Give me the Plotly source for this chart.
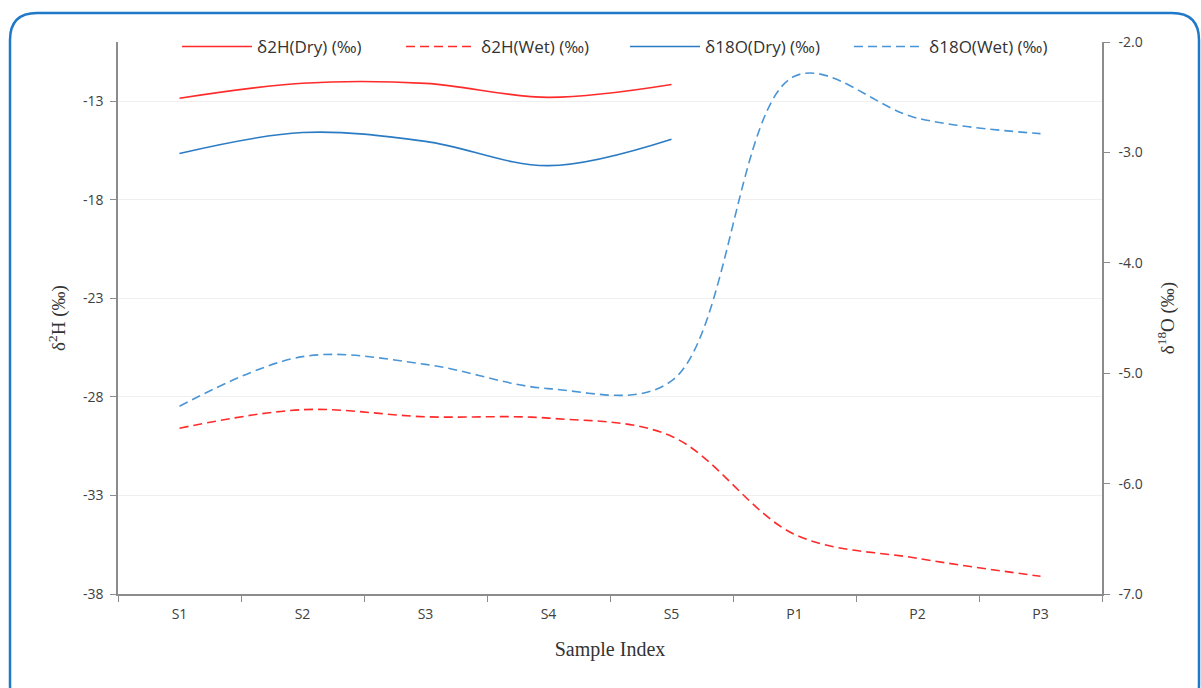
import plotly.graph_objects as go

samples = ["S1", "S2", "S3", "S4", "S5", "P1", "P2", "P3"]
d2h_dry = [-12.85, -12.09, -12.10, -12.81, -12.16]
d2h_wet = [-29.59, -28.65, -29.01, -29.08, -30.00, -34.97, -36.19, -37.10]
d18o_dry = [-3.01, -2.82, -2.90, -3.12, -2.88]
d18o_wet = [-5.30, -4.85, -4.92, -5.14, -5.07, -2.31, -2.69, -2.83]

h_ticks = [-38, -33, -28, -23, -18, -13]
h_ticklabels = ["-38", "-33", "-28", "-23", "-18", "-13"]
o_ticks = [-7.0, -6.0, -5.0, -4.0, -3.0, -2.0]
o_ticklabels = ["-7.0", "-6.0", "-5.0", "-4.0", "-3.0", "-2.0"]

RED = "#ff2a2a"
BLUE_D = "#2a7bc4"
BLUE_W = "#4a95d6"

fig = go.Figure()
fig.add_trace(go.Scatter(x=samples[:5], y=d2h_dry, name="δ2H(Dry) (‰)", mode="lines",
                         line=dict(color=RED, width=1.6, shape="spline", smoothing=1.0)))
fig.add_trace(go.Scatter(x=samples, y=d2h_wet, name="δ2H(Wet) (‰)", mode="lines",
                         line=dict(color=RED, width=1.6, dash="9px,5px", shape="spline", smoothing=1.0)))
fig.add_trace(go.Scatter(x=samples[:5], y=d18o_dry, name="δ18O(Dry) (‰)", mode="lines", yaxis="y2",
                         line=dict(color=BLUE_D, width=1.6, shape="spline", smoothing=1.0)))
fig.add_trace(go.Scatter(x=samples, y=d18o_wet, name="δ18O(Wet) (‰)", mode="lines", yaxis="y2",
                         line=dict(color=BLUE_W, width=1.6, dash="9px,5px", shape="spline", smoothing=1.0)))

L, R, T, B = 118, 1102, 42, 594
W, H = 1201, 688

def px(x):
    return (x - L) / (R - L)

def py(y):
    return (B - y) / (B - T)

# rounded border box
x0, x1, y0, y1, r = 10, 1199, 13, 712, 27
path = (f"M{px(x0+r)},{py(y0)} L{px(x1-r)},{py(y0)} Q{px(x1)},{py(y0)} {px(x1)},{py(y0+r)} "
        f"L{px(x1)},{py(y1-r)} Q{px(x1)},{py(y1)} {px(x1-r)},{py(y1)} "
        f"L{px(x0+r)},{py(y1)} Q{px(x0)},{py(y1)} {px(x0)},{py(y1-r)} "
        f"L{px(x0)},{py(y0+r)} Q{px(x0)},{py(y0)} {px(x0+r)},{py(y0)} Z")
fig.add_shape(type="path", path=path, xref="paper", yref="paper",
              line=dict(color="#1f78c8", width=2.5), layer="below")

axis_col = "#8c8c8c"
tickfont = dict(family="Open Sans, sans-serif", size=14, color="#404040")
serif = "Liberation Serif, serif"

fig.update_layout(
    width=W, height=H,
    margin=dict(l=L, r=W - R, t=T, b=H - B),
    paper_bgcolor="white", plot_bgcolor="white",
    showlegend=True,
    legend=dict(orientation="h", x=px(177), y=py(47), xanchor="left", yanchor="middle",
                font=dict(family="Open Sans, sans-serif", size=17, color="#333333"),
                itemwidth=70, entrywidth=139, entrywidthmode="pixels",
                bgcolor="rgba(0,0,0,0)"),
    xaxis=dict(type="category", range=[-0.5, 7.5], tickson="boundaries", ticks="outside",
               ticklen=6, tickcolor=axis_col, showline=True, linecolor=axis_col, linewidth=1.5,
               showgrid=False, tickfont=tickfont, ticklabelstandoff=6,
               title=dict(text="Sample Index", standoff=20,
                          font=dict(family=serif, size=20, color="#333333"))),
    yaxis=dict(range=[-38, -10], tickvals=h_ticks, ticktext=h_ticklabels, ticks="outside",
               ticklen=6, tickcolor=axis_col, showline=True, linecolor=axis_col, linewidth=1.5,
               showgrid=True, gridcolor="#efefef", gridwidth=1, zeroline=False,
               tickfont=tickfont, ticklabelstandoff=4,
               title=dict(text="δ<sup>2</sup>H (‰)", standoff=12,
                          font=dict(family=serif, size=19, color="#333333"))),
    yaxis2=dict(range=[-7, -2], tickvals=o_ticks, ticktext=o_ticklabels, overlaying="y",
                side="right", ticks="outside", ticklen=6, tickcolor=axis_col, showline=True,
                linecolor=axis_col, linewidth=1.5, showgrid=False, zeroline=False,
                tickfont=tickfont, ticklabelstandoff=6,
                title=dict(text="δ<sup>18</sup>O (‰)", standoff=19,
                           font=dict(family=serif, size=19, color="#333333"))),
)

fig.write_html("out.html")
